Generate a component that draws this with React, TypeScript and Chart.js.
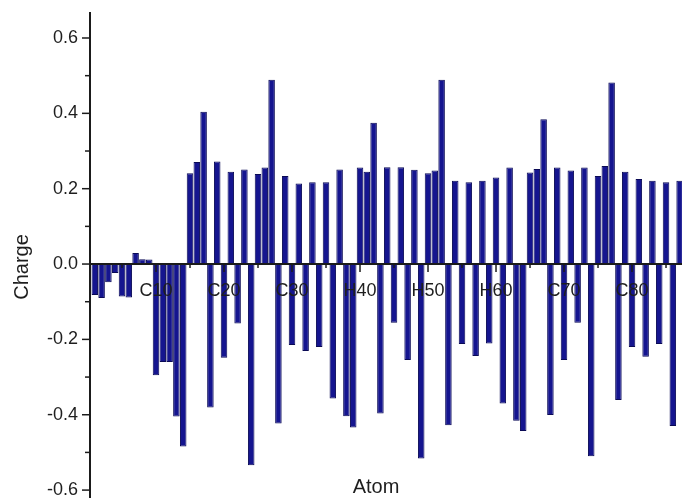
import React, { useEffect, useRef } from 'react';
import { Chart, registerables } from 'chart.js';

Chart.register(...registerables);

const atomNumbers = [
  1, 2, 3, 4, 5, 6, 7, 8, 9, 10,
  11, 12, 13, 14, 15, 16, 17, 18, 19, 20,
  21, 22, 23, 24, 25, 26, 27, 28, 29, 30,
  31, 32, 33, 34, 35, 36, 37, 38, 39, 40,
  41, 42, 43, 44, 45, 46, 47, 48, 49, 50,
  51, 52, 53, 54, 55, 56, 57, 58, 59, 60,
  61, 62, 63, 64, 65, 66, 67, 68, 69, 70,
  71, 72, 73, 74, 75, 76, 77, 78, 79, 80,
  81, 82, 83, 84, 85, 86, 87,
];

const charges = [
  -0.082, -0.09, -0.048, -0.024, -0.086, -0.089, 0.029, 0.013, 0.012, -0.295,
  -0.26, -0.26, -0.405, -0.484, 0.241, 0.271, 0.404, -0.381, 0.272, -0.249,
  0.245, -0.158, 0.251, -0.534, 0.239, 0.256, 0.489, -0.423, 0.234, -0.215,
  0.214, -0.231, 0.217, -0.22, 0.217, -0.357, 0.251, -0.404, -0.434, 0.256,
  0.245, 0.375, -0.397, 0.257, -0.156, 0.257, -0.255, 0.25, -0.516, 0.241,
  0.248, 0.489, -0.428, 0.221, -0.212, 0.217, -0.244, 0.221, -0.211, 0.23,
  -0.37, 0.256, -0.416, -0.443, 0.243, 0.252, 0.384, -0.401, 0.256, -0.255,
  0.248, -0.156, 0.256, -0.51, 0.234, 0.26, 0.482, -0.361, 0.245, -0.22,
  0.226, -0.246, 0.221, -0.212, 0.217, -0.43, 0.221,
];

const xTickValues = [10, 20, 30, 40, 50, 60, 70, 80];
const xTickLabels = ['C10', 'C20', 'C30', 'H40', 'H50', 'H60', 'C70', 'C80'];
const xMinorTickValues = [5, 15, 25, 35, 45, 55, 65, 75, 85];

const yTickValues = [-0.6, -0.4, -0.2, 0, 0.2, 0.4, 0.6];
const yTickLabels = ['-0.6', '-0.4', '-0.2', '0.0', '0.2', '0.4', '0.6'];
const yMinorTickValues = [-0.5, -0.3, -0.1, 0.1, 0.3, 0.5];

const xTitle = 'Atom';
const yTitle = 'Charge';

const FONT = '"Liberation Sans", Arial, Helvetica, sans-serif';

const axesPlugin = {
  id: 'originAxes',
  afterDatasetsDraw(chart: any) {
    const { ctx, chartArea, scales } = chart;
    const xs = scales.x;
    const ys = scales.y;
    const y0 = ys.getPixelForValue(0);
    ctx.save();
    ctx.strokeStyle = '#1b1b1b';
    ctx.fillStyle = '#1e1e1e';

    // y axis line
    ctx.lineWidth = 2;
    ctx.beginPath();
    ctx.moveTo(chartArea.left, chartArea.top);
    ctx.lineTo(chartArea.left, chartArea.bottom);
    ctx.stroke();

    // x axis line at zero
    ctx.beginPath();
    ctx.moveTo(chartArea.left, y0);
    ctx.lineTo(chartArea.right, y0);
    ctx.stroke();

    // y ticks
    ctx.lineWidth = 1.5;
    yTickValues.forEach((v) => {
      const py = ys.getPixelForValue(v);
      ctx.beginPath();
      ctx.moveTo(chartArea.left - 8, py);
      ctx.lineTo(chartArea.left, py);
      ctx.stroke();
    });
    yMinorTickValues.forEach((v) => {
      const py = ys.getPixelForValue(v);
      ctx.beginPath();
      ctx.moveTo(chartArea.left - 5, py);
      ctx.lineTo(chartArea.left, py);
      ctx.stroke();
    });

    // x ticks
    xTickValues.forEach((v) => {
      const px = xs.getPixelForValue(v);
      ctx.beginPath();
      ctx.moveTo(px, y0);
      ctx.lineTo(px, y0 + 8);
      ctx.stroke();
    });
    xMinorTickValues.forEach((v) => {
      const px = xs.getPixelForValue(v);
      ctx.beginPath();
      ctx.moveTo(px, y0);
      ctx.lineTo(px, y0 + 4);
      ctx.stroke();
    });

    // y tick labels
    ctx.font = `18px ${FONT}`;
    ctx.textAlign = 'right';
    ctx.textBaseline = 'middle';
    yTickValues.forEach((v, i) => {
      const py = ys.getPixelForValue(v);
      ctx.fillText(yTickLabels[i], chartArea.left - 12, py);
    });

    // x tick labels
    ctx.textAlign = 'center';
    xTickValues.forEach((v, i) => {
      const px = xs.getPixelForValue(v);
      ctx.fillText(xTickLabels[i], px, y0 + 27);
    });

    // axis titles
    ctx.font = `20px ${FONT}`;
    ctx.textAlign = 'center';
    ctx.textBaseline = 'middle';
    ctx.fillText(xTitle, 376, 487);

    ctx.translate(22, 267);
    ctx.rotate(-Math.PI / 2);
    ctx.fillText(yTitle, 0, 0);

    ctx.restore();
  },
};

export default function App() {
  const canvasRef = useRef<HTMLCanvasElement | null>(null);

  useEffect(() => {
    const canvas = canvasRef.current;
    if (!canvas) return;
    const chart = new Chart(canvas, {
      type: 'bar',
      data: {
        datasets: [
          {
            data: atomNumbers.map((a, i) => ({ x: a, y: charges[i] })),
            backgroundColor: '#15158f',
            borderColor: '#0a0a55',
            borderWidth: 1,
            barPercentage: 0.96,
            categoryPercentage: 1,
          },
        ],
      },
      options: {
        responsive: false,
        devicePixelRatio: 1,
        animation: false,
        layout: { padding: { left: 90, top: 12, right: 0, bottom: 0 } },
        plugins: {
          legend: { display: false },
          tooltip: { enabled: false },
          title: { display: false },
        },
        scales: {
          x: {
            type: 'linear',
            min: 0.294,
            max: 87.35,
            offset: false,
            display: false,
          },
          y: {
            type: 'linear',
            min: -0.621,
            max: 0.669,
            display: false,
          },
        },
      },
      plugins: [axesPlugin],
    });
    return () => chart.destroy();
  }, []);

  return (
    <div
      style={{
        position: 'fixed',
        left: 0,
        top: 0,
        width: 682,
        height: 498,
        overflow: 'hidden',
        background: '#ffffff',
      }}
    >
      <canvas ref={canvasRef} width={682} height={498} style={{ width: 682, height: 498, display: 'block' }} />
    </div>
  );
}
